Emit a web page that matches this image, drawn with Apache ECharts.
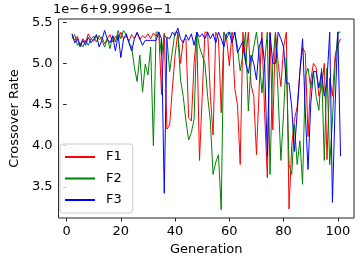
<!DOCTYPE html>
<html><head><meta charset="utf-8">
<script src="https://cdn.jsdelivr.net/npm/echarts@6/dist/echarts.min.js"></script>
<style>html,body{margin:0;padding:0;background:#fff}#c{width:360px;height:263px}</style>
</head><body><div id="c"></div>
<script>
// Generations 2..101
const generations = [];
for (let g = 2; g <= 101; g++) generations.push(g);

// values shown as (rate - 0.99996) / 1e-6
const f1 = [
  5.35,5.28,5.33,5.22,5.30,5.25,5.36,5.30,5.27,5.34,
  5.29,5.32,5.24,5.30,5.35,5.26,5.33,5.28,5.38,5.30,
  5.33,5.27,5.35,5.30,5.37,5.29,5.34,5.31,5.36,5.30,
  5.37,5.33,5.38,4.62,5.37,4.20,4.25,4.70,5.10,5.38,
  5.00,5.28,5.30,4.34,4.30,5.00,5.38,3.82,4.60,5.38,
  5.38,4.60,4.13,5.38,5.30,4.40,5.38,5.30,4.97,5.38,
  4.70,4.49,3.77,5.38,5.03,5.38,4.74,4.60,3.89,4.70,
  5.38,4.40,3.61,5.38,4.19,5.38,5.00,4.72,5.20,5.38,
  3.23,4.00,4.32,4.47,4.90,5.19,5.13,4.11,4.80,5.00,
  4.95,4.60,4.70,5.00,3.83,4.82,4.60,5.10,5.22,5.30
];
const f2 = [
  5.30,5.35,5.22,5.25,5.20,5.28,5.22,5.30,5.33,5.26,
  5.34,5.28,5.20,5.30,5.18,5.34,5.26,5.40,5.30,5.40,
  5.35,5.25,5.20,4.95,4.78,5.10,4.65,4.99,4.86,5.20,
  4.00,5.38,5.38,5.10,5.35,5.30,4.90,5.15,5.38,5.38,
  4.80,4.60,4.30,4.07,4.16,4.32,5.38,5.20,5.10,5.00,
  4.60,4.30,3.65,3.80,3.89,3.22,5.38,5.30,5.38,5.35,
  5.38,5.20,4.91,5.10,5.38,4.42,5.00,5.20,5.38,5.10,
  4.64,5.00,5.38,3.65,5.00,5.38,4.60,3.82,4.40,5.07,
  3.77,3.65,4.26,3.77,4.06,3.53,4.85,4.94,4.70,4.90,
  4.60,4.43,4.94,3.82,4.94,3.77,4.30,5.00,5.38,5.38
];
const f3 = [
  5.36,5.25,5.30,5.20,5.28,5.22,5.32,5.25,5.30,5.35,
  5.20,5.28,5.40,5.30,5.25,5.33,5.15,5.35,5.07,5.30,
  5.36,5.25,5.15,5.30,5.38,5.30,5.22,5.28,5.28,5.28,
  5.28,5.28,5.38,5.30,3.42,5.32,5.30,5.38,5.34,5.43,
  5.30,5.25,5.35,5.28,5.36,5.22,5.38,5.32,5.36,5.30,
  5.38,5.30,5.36,5.25,5.38,5.30,5.20,5.36,5.38,5.25,
  5.38,5.13,5.20,5.27,5.00,4.88,5.10,5.00,4.80,5.20,
  5.30,5.00,3.87,5.37,5.00,5.00,5.38,5.30,5.20,4.76,
  4.76,4.47,3.93,4.40,4.90,5.30,4.40,3.71,4.50,4.90,
  4.90,4.70,4.90,4.60,4.80,5.38,3.31,4.50,5.38,3.87
];
const xTicks = [0, 20, 40, 60, 80, 100];
const yTicks = [3.5, 4.0, 4.5, 5.0, 5.5];
const seriesNames = ['F1', 'F2', 'F3'];
const colors = ['#ff0000', '#008000', '#0000ff'];
const offsetText = '1e\u22126+9.9996e\u22121';

const font = 'DejaVu Sans';
const all = [f1, f2, f3];
const chart = echarts.init(document.getElementById('c'), null, {renderer: 'canvas'});
chart.setOption({
  animation: false,
  grid: {left: 53, right: 6, top: 19, bottom: 45, show: true, borderColor: '#222', borderWidth: 1, backgroundColor: 'transparent'},
  xAxis: {
    type: 'value', min: -2.95, max: 105.95,
    name: 'Generation', nameLocation: 'middle', nameGap: 22,
    nameTextStyle: {fontFamily: font, fontSize: 13, color: '#000'},
    axisLine: {show: false},
    axisTick: {show: true, length: 3.5, inside: false, customValues: xTicks, lineStyle: {color: '#222'}},
    axisLabel: {customValues: xTicks, margin: 7, fontFamily: font, fontSize: 13, color: '#000'},
    splitLine: {show: false}
  },
  yAxis: {
    type: 'value', min: 3.12, max: 5.54,
    name: 'Crossover Rate', nameLocation: 'middle', nameGap: 35,
    nameTextStyle: {fontFamily: font, fontSize: 13, color: '#000'},
    axisLine: {show: false},
    axisTick: {show: true, length: 3.5, customValues: yTicks, lineStyle: {color: '#222'}},
    axisLabel: {customValues: yTicks, margin: 6, fontFamily: font, fontSize: 13, color: '#000',
      formatter: v => v.toFixed(1)},
    splitLine: {show: false}
  },
  legend: {
    orient: 'vertical', left: 60, top: 144,
    padding: [6, 11, 6, 5], itemGap: 7.5,
    itemWidth: 30, itemHeight: 2,
    backgroundColor: 'rgba(255,255,255,0.8)', borderColor: '#cccccc', borderWidth: 1, borderRadius: 3,
    textStyle: {fontFamily: font, fontSize: 13, color: '#000', lineHeight: 14, padding: [0, 0, 0, 6]},
    data: seriesNames.map((n, i) => ({name: n, icon: 'rect', itemStyle: {color: colors[i]}}))
  },
  graphic: [{type: 'text', left: 53, top: 3, style: {text: offsetText, font: '13px DejaVu Sans', fill: '#000'}}],
  series: all.map((arr, i) => ({
    name: seriesNames[i], type: 'line', showSymbol: false, symbol: 'none',
    color: colors[i], lineStyle: {width: 1, color: colors[i]},
    data: generations.map((g, k) => [g, arr[k]])
  }))
});
</script></body></html>
